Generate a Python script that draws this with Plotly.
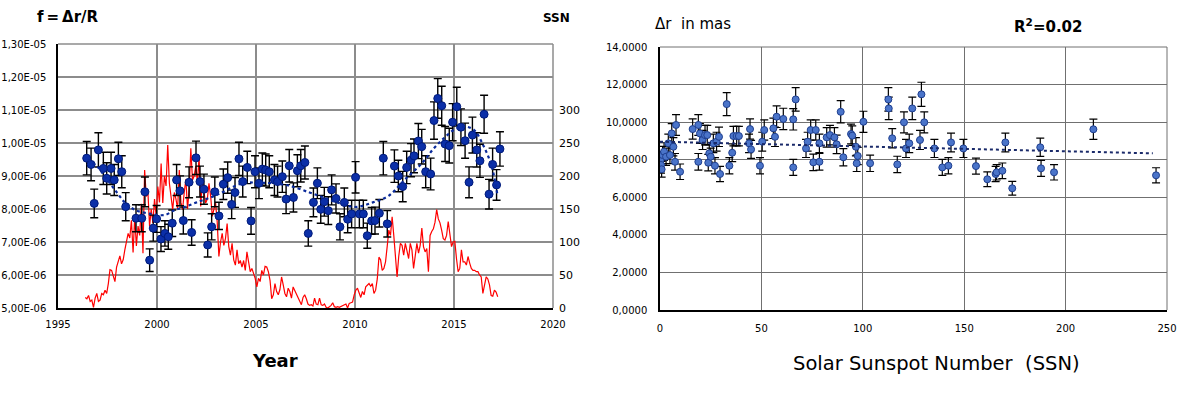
import plotly.graph_objects as go

# ---- left panel: f = dr/R per epoch ----
f_year = [1996.45, 1996.67, 1996.83, 1997.04, 1997.29, 1997.46, 1997.68, 1997.84, 1998.05, 1998.22,
          1998.42, 1998.94, 1999.23, 1999.39, 1999.63, 1999.81, 1999.98, 2000.20, 2000.40, 2000.57,
          2000.77, 2000.99, 2001.16, 2001.33, 2001.62, 2001.75, 2001.97, 2002.17, 2002.37, 2002.56,
          2002.76, 2002.92, 2003.13, 2003.35, 2003.57, 2003.77, 2003.94, 2004.14, 2004.33, 2004.56,
          2004.75, 2004.95, 2005.15, 2005.32, 2005.49, 2005.67, 2005.93, 2006.09, 2006.33, 2006.52,
          2006.68, 2006.89, 2007.09, 2007.26, 2007.47, 2007.64, 2007.90, 2008.10, 2008.27, 2008.45,
          2008.65, 2008.82, 2009.04, 2009.24, 2009.46, 2009.63, 2009.83, 2010.03, 2010.22, 2010.42,
          2010.62, 2010.84, 2011.01, 2011.23, 2011.43, 2011.63, 2011.99, 2012.19, 2012.41, 2012.61,
          2012.83, 2012.98, 2013.20, 2013.37, 2013.57, 2013.82, 2013.99, 2014.18, 2014.38, 2014.55,
          2014.76, 2014.93, 2015.14, 2015.35, 2015.56, 2015.76, 2015.93, 2016.15, 2016.31, 2016.52,
          2016.77, 2016.95, 2017.15, 2017.32]
f_val = [9.54, 9.35, 8.17, 9.79, 9.23, 8.93, 9.23, 8.88, 9.52, 9.13,
         8.07, 7.72, 7.72, 8.52, 6.45, 7.42, 7.70, 7.09, 7.26, 7.16,
         7.57, 8.88, 8.55, 7.65, 8.81, 7.29, 9.55, 8.83, 8.60, 6.91,
         7.46, 8.52, 7.79, 8.75, 8.95, 8.14, 8.50, 9.52, 8.83, 9.26,
         7.64, 9.13, 8.78, 9.21, 9.18, 9.13, 8.88, 8.83, 8.98, 8.30,
         9.31, 8.35, 9.16, 9.31, 9.41, 7.26, 8.20, 8.78, 7.99, 8.22,
         7.95, 8.58, 8.32, 7.46, 8.20, 7.69, 7.85, 8.96, 7.85, 7.85,
         7.19, 7.64, 7.65, 7.87, 9.54, 7.55, 9.30, 9.00, 8.68, 9.26,
         9.48, 9.61, 10.06, 9.89, 9.13, 9.06, 10.68, 11.35, 11.13, 9.97,
         9.92, 10.63, 11.10, 10.48, 10.07, 8.81, 10.24, 9.79, 9.46, 10.87,
         8.45, 9.35, 8.73, 9.82]
f_val = [v * 1e-6 for v in f_val]

# moving-average trend
trend_year = [1996.5, 1997.0, 1997.5, 1998.0, 1998.4, 1998.9, 1999.7, 2000.4, 2000.9, 2001.3,
              2002.0, 2003.0, 2004.3, 2005.0, 2006.5, 2007.7, 2008.4, 2009.1, 2010.0, 2010.9,
              2011.7, 2012.5, 2013.4, 2014.0, 2014.5, 2015.0, 2015.5, 2016.0, 2016.5, 2016.9, 2017.2]
trend_val = [9.50, 9.27, 8.88, 8.48, 8.18, 7.97, 7.85, 7.82, 7.97, 8.04,
             8.20, 8.42, 8.78, 8.80, 8.73, 8.50, 8.35, 8.20, 8.06, 8.20,
             8.40, 8.88, 9.40, 9.85, 10.15, 10.40, 10.50, 10.40, 9.90, 9.30, 8.40]
trend_val = [v * 1e-6 for v in trend_val]

# monthly sunspot number, May 1996 .. Mar 2017
ssn_first_month = (1996, 5)
ssn = [
    16, 14, 19, 10, 12, 1, 15, 22,                                   # 1996
    10, 12, 22, 20, 27, 22, 37, 58, 57, 48, 40, 62,                  # 1997
    73, 79, 67, 73, 88, 104, 113, 106, 133, 84, 138, 94,             # 1998
    124, 110, 158, 83, 209, 169, 175, 124, 150, 129, 165, 140,       # 1999
    184, 160, 219, 159, 200, 185, 247, 189, 170, 149, 175, 165,      # 2000
    150, 209, 160, 149, 175, 195, 150, 180, 242, 194, 200, 215,      # 2001
    190, 229, 154, 194, 175, 159, 165, 189, 170, 139, 150, 159,      # 2002
    130, 78, 100, 113, 95, 105, 128, 93, 80, 98, 73, 65,             # 2003
    88, 67, 72, 62, 72, 57, 85, 67, 55, 60, 52, 45,                  # 2004
    32, 45, 40, 57, 50, 63, 62, 55, 42, 14, 20, 37,                  # 2005
    25, 20, 28, 47, 35, 22, 17, 30, 25, 15, 32, 27,                  # 2006
    22, 17, 10, 5, 16, 20, 14, 6, 4, 5, 3, 15,                       # 2007
    6, 5, 15, 5, 4, 6, 1, 0, 2, 4, 8, 2,                             # 2008
    1, 2, 1, 2, 4, 5, 6, 0, 7, 8, 9, 20,                             # 2009
    27, 30, 22, 16, 25, 20, 32, 34, 37, 33, 37, 22,                  # 2010
    27, 44, 77, 73, 57, 60, 70, 93, 118, 110, 138, 110,              # 2011
    80, 47, 78, 98, 95, 80, 98, 88, 75, 98, 88, 60,                  # 2012
    80, 98, 83, 95, 121, 93, 85, 90, 55, 110, 116, 120,              # 2013
    130, 149, 135, 129, 118, 105, 103, 110, 131, 108, 93, 100,       # 2014
    101, 75, 55, 60, 88, 70, 70, 65, 78, 68, 60, 57,                 # 2015
    57, 55, 55, 50, 47, 22, 33, 47, 44, 35, 19, 18,                  # 2016
    27, 24, 17,                                                      # 2017
]
ssn_year = [ssn_first_month[0] + (ssn_first_month[1] - 1 + i + 0.5) / 12 for i in range(len(ssn))]

# ---- right panel: dr (mas) vs SSN ----
sc_ssn = [0.3, 0.5, 0.8, 1.3, 2.0, 3.0, 4.1, 4.9, 5.8, 6.6, 7.4, 7.9, 9.9, 16.1, 18.9, 18.9, 19.7,
          21.0, 22.2, 23.3, 23.8, 24.3, 25.0, 26.3, 27.1, 27.9, 29.1, 29.6, 32.9, 34.2, 35.6, 36.2,
          37.8, 38.9, 43.9, 44.4, 44.9, 49.3, 50.4, 51.4, 55.9, 56.7, 57.5, 60.8, 65.7, 65.7, 66.9,
          72.0, 72.8, 74.3, 75.6, 76.8, 78.6, 78.6, 82.2, 83.8, 86.0, 87.1, 89.1, 90.4, 94.2, 94.8,
          96.6, 97.0, 97.5, 100.3, 103.6, 112.6, 112.8, 114.5, 117.0, 120.3, 121.3, 122.9, 124.4,
          128.2, 128.9, 130.3, 135.3, 139.2, 142.2, 143.5, 149.6, 155.8, 161.4, 165.5, 166.0, 168.8,
          170.3, 173.7, 187.5, 187.9, 194.3, 213.7, 244.6]
sc_dr = [7.98, 7.72, 7.49, 8.25, 8.43, 8.16, 8.87, 8.25, 9.40, 8.69, 7.89, 9.85, 7.36, 9.63, 9.85,
         7.89, 9.40, 9.05, 9.31, 9.31, 7.84, 8.34, 8.16, 8.87, 7.68, 8.96, 9.22, 7.24, 10.96, 7.68,
         8.37, 9.26, 9.26, 9.26, 8.87, 9.63, 8.55, 7.68, 8.96, 9.58, 9.67, 9.22, 10.29, 10.17, 10.15,
         7.59, 11.21, 8.60, 8.96, 9.58, 7.86, 9.58, 7.89, 8.87, 9.19, 9.31, 9.19, 8.82, 10.55, 8.13,
         9.37, 9.28, 8.69, 7.81, 8.20, 10.02, 7.81, 11.21, 10.73, 9.14, 7.75, 9.99, 8.60, 8.87, 10.73,
         9.05, 11.48, 9.99, 8.60, 7.59, 7.68, 8.92, 8.60, 7.66, 6.96, 7.24, 7.33, 7.41, 8.92, 6.48,
         8.66, 7.54, 7.33, 9.62, 7.17]
fit_ssn = [0, 243]
fit_dr = [8.96, 8.34]

f_ticks = [5e-6, 6e-6, 7e-6, 8e-6, 9e-6, 1e-5, 1.1e-5, 1.2e-5, 1.3e-5]
f_ticktext = ["5,00E-06", "6,00E-06", "7,00E-06", "8,00E-06", "9,00E-06",
              "1,00E-05", "1,10E-05", "1,20E-05", "1,30E-05"]
ssn_ticks = [0, 50, 100, 150, 200, 250, 300]
dr_ticks = [0, 2, 4, 6, 8, 10, 12, 14]
dr_ticktext = ["0,0000", "2,0000", "4,0000", "6,0000", "8,0000", "10,0000", "12,0000", "14,0000"]

FONT = "DejaVu Sans"
GRID = "#8c8c8c"
GRID2 = "#707070"
DARK_BLUE = "#0b2fa8"
LIGHT_BLUE = "#4a74c9"

W, H = 1191, 393


def px_x(p):
    return p / W


def px_y(p):
    return 1 - p / H


fig = go.Figure()

fig.add_trace(go.Scatter(x=ssn_year, y=ssn, mode="lines", line=dict(color="#ff0000", width=1.2),
                         xaxis="x", yaxis="y", showlegend=False))
fig.add_trace(go.Scatter(
    x=f_year, y=f_val, mode="markers", xaxis="x", yaxis="y3", showlegend=False,
    marker=dict(size=8, color=DARK_BLUE, line=dict(color="#001a7a", width=1)),
    error_y=dict(type="percent", value=5.3, color="black", thickness=1.4, width=4),
))
fig.add_trace(go.Scatter(x=trend_year, y=trend_val, mode="lines", xaxis="x", yaxis="y3",
                         line=dict(color="#0a2a9a", width=2.2, dash="dot", shape="spline"),
                         showlegend=False))

fig.add_trace(go.Scatter(
    x=sc_ssn, y=sc_dr, mode="markers", xaxis="x2", yaxis="y2", showlegend=False,
    marker=dict(size=7, color=LIGHT_BLUE, line=dict(color="#1f3f8f", width=1)),
    error_y=dict(type="percent", value=5.6, color="black", thickness=1.2, width=4),
))
fig.add_trace(go.Scatter(x=fit_ssn, y=fit_dr, mode="lines", xaxis="x2", yaxis="y2",
                         line=dict(color="#1a2a6a", width=2, dash="dot"), showlegend=False))

tick_font = dict(family=FONT, size=10, color="black")

fig.update_layout(
    width=W, height=H, autosize=False,
    margin=dict(l=0, r=0, t=0, b=0),
    paper_bgcolor="white", plot_bgcolor="white",
    font=dict(family=FONT, color="black"),
    xaxis=dict(domain=[px_x(58), px_x(553)], range=[1995, 2020], dtick=5, tick0=1995,
               showgrid=True, gridcolor=GRID, gridwidth=1.5, zeroline=False,
               showline=True, linecolor="black", linewidth=1.5, ticks="", automargin=False,
               tickfont=tick_font, ticklabelstandoff=6, anchor="y"),
    yaxis=dict(domain=[px_y(308), px_y(44)], range=[0, 400], tickvals=ssn_ticks,
               side="right", anchor="x", showgrid=False, zeroline=False, showline=False,
               ticks="", tickfont=dict(family=FONT, size=11, color="black"),
               ticklabelstandoff=5, automargin=False),
    yaxis3=dict(overlaying="y", side="left", anchor="x", range=[5e-6, 1.3e-5],
                tickvals=f_ticks, ticktext=f_ticktext, showgrid=True, gridcolor=GRID,
                gridwidth=1.5, zeroline=False, showline=True, linecolor="black",
                linewidth=1.5, ticks="", tickfont=tick_font, ticklabelstandoff=8,
                automargin=False),
    xaxis2=dict(domain=[px_x(660), px_x(1167)], range=[0, 250], dtick=50,
                showgrid=True, gridcolor=GRID2, gridwidth=1, zeroline=False,
                showline=True, linecolor="black", linewidth=1.5, ticks="", automargin=False,
                tickfont=tick_font, ticklabelstandoff=8, anchor="y2"),
    yaxis2=dict(domain=[px_y(310), px_y(47)], range=[0, 14], tickvals=dr_ticks,
                ticktext=dr_ticktext, showgrid=True, gridcolor=GRID2, gridwidth=1,
                zeroline=False, showline=True, linecolor="black", linewidth=1.5,
                ticks="", tickfont=tick_font, ticklabelstandoff=9, anchor="x2",
                automargin=False),
)

# right / top frame edges (gray, like the gridlines)
for xr, yr, col, wd in [("x domain", "y domain", GRID, 1.5), ("x2 domain", "y2 domain", GRID2, 1)]:
    fig.add_shape(type="line", xref=xr, yref=yr, x0=1, x1=1, y0=0, y1=1,
                  line=dict(color=col, width=wd), layer="below")
    fig.add_shape(type="line", xref=xr, yref=yr, x0=0, x1=1, y0=1, y1=1,
                  line=dict(color=col, width=wd), layer="below")

annotations = [
    dict(text="<b>f\u2009=\u2009Δr/R</b>", x=68, y=17, size=15),
    dict(text="<b>SSN</b>", x=556, y=18, size=12),
    dict(text="<b>Year</b>", x=275, y=360, size=18),
    dict(text="Δr  in mas", x=693, y=24, size=15),
    dict(text="<b>R<sup>2</sup>=0.02</b>", x=1048, y=26, size=15),
    dict(text="Solar Sunspot Number  (SSN)", x=936, y=363, size=19.5),
]
for a in annotations:
    fig.add_annotation(text=a["text"], x=px_x(a["x"]), y=px_y(a["y"]), xref="paper", yref="paper",
                       xanchor="center", yanchor="middle", showarrow=False,
                       font=dict(family=FONT, size=a["size"], color="black"))

fig.write_html(
    "out.html",
    config={"displayModeBar": False},
    post_script="document.body.style.margin='0';document.body.style.overflow='hidden';",
)
